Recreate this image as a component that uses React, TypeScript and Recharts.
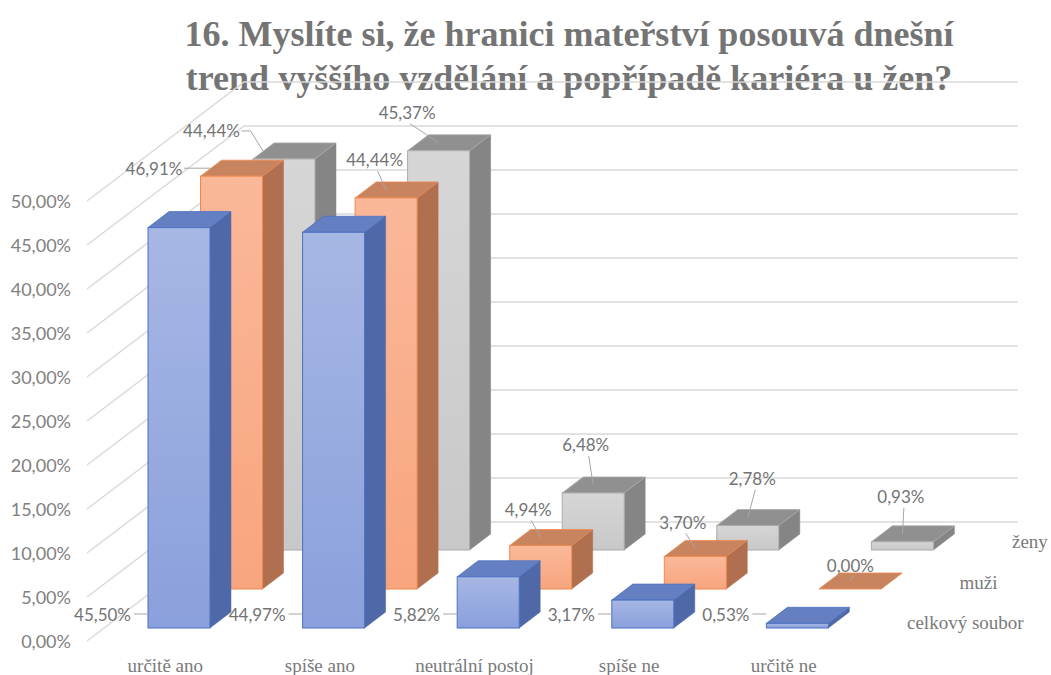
import React from 'react';
import { BarChart, Bar, XAxis, YAxis, CartesianGrid, LabelList } from 'recharts';

const categories = ['určitě ano', 'spíše ano', 'neutrální postoj', 'spíše ne', 'určitě ne'];
const celkovySoubor = [45.5, 44.97, 5.82, 3.17, 0.53];
const muzi = [46.91, 44.44, 4.94, 3.7, 0.0];
const zeny = [44.44, 45.37, 6.48, 2.78, 0.93];
const seriesNames = ['celkový soubor', 'muži', 'ženy'];
const yTicks = [0, 5, 10, 15, 20, 25, 30, 35, 40, 45, 50];

const data = categories.map((cat, i) => ({
  cat,
  celkovy: celkovySoubor[i],
  muzi: muzi[i],
  zeny: zeny[i],
}));

// pseudo 3D geometry
const ROW_DX = 52.5;
const ROW_DY = -39;
const BOX_DX = 21;
const BOX_DY = -16;
const WALL_FRONT_X = 87;
const WALL_DX = 157;
const WALL_DY = -119;
const WALL_RIGHT_X = 1018;

const SERIF = "'Liberation Serif', 'DejaVu Serif', 'Noto Serif', Tinos, FreeSerif, 'Times New Roman', Times, serif";
const TEXT = '#737373';
const LEADER = '#a6a6a6';

const rowStyles = [
  { grad: 'gBlue', top: '#6580c2', side: '#4f69a8', stroke: '#4a70c2' },
  { grad: 'gOrange', top: '#c8835f', side: '#b06f4f', stroke: '#ef8a4d' },
  { grad: 'gGray', top: '#909090', side: '#858585', stroke: '#ababab' },
];

// label offsets from the top face centre [dx, dy, leader mode]
const labelShift: Record<number, [number, number, string][]> = {
  1: [[-88, 0, 'r'], [-22, -30, 'b'], [-23, -28, 'b'], [-23, -26, 'b'], [-10, -16, 'b']],
  2: [[-83, -20, 'r'], [-42, -30, 'b'], [-18, -40, 'b'], [-6, -39, 'b'], [-12, -37, 'b']],
};

const fmt = (v: number) => `${v.toFixed(2).replace('.', ',')}%`;

function Box3D(props: any) {
  const { x, y, width, height, row } = props;
  const st = rowStyles[row];
  const x0 = x + ROW_DX * row;
  const y0 = y + ROW_DY * row;
  const w = width;
  const h = Math.max(height || 0, 0);
  const top = `M${x0},${y0} L${x0 + BOX_DX},${y0 + BOX_DY} L${x0 + w + BOX_DX},${y0 + BOX_DY} L${x0 + w},${y0} Z`;
  const side = `M${x0 + w},${y0} L${x0 + w + BOX_DX},${y0 + BOX_DY} L${x0 + w + BOX_DX},${y0 + h + BOX_DY} L${x0 + w},${y0 + h} Z`;
  return (
    <g>
      <path d={side} fill={st.side} stroke={st.side} strokeWidth={0.5} />
      <path d={top} fill={st.top} stroke={st.stroke} strokeWidth={0.8} />
      <rect x={x0} y={y0} width={w} height={h} fill={`url(#${st.grad})`} stroke={st.stroke} strokeWidth={1} />
    </g>
  );
}

const makeLabel = (row: number) => (props: any) => {
  const vb = props.viewBox || props;
  const { x, y, width, height } = vb;
  const { value, index } = props;
  const x0 = x + ROW_DX * row;
  const y0 = y + ROW_DY * row;
  const txt = fmt(Number(value));
  const style = { fontFamily: 'Lato, sans-serif', fontSize: 17, fill: TEXT };
  if (row === 0) {
    const by = y0 + height - 14;
    return (
      <g>
        <line x1={x0 - 14} y1={by} x2={x0} y2={by} stroke={LEADER} />
        <text x={x0 - 17} y={by} textAnchor="end" dominantBaseline="central" style={style}>
          {txt}
        </text>
      </g>
    );
  }
  const [dx, dy, mode] = labelShift[row][index];
  const tx = x0 + width / 2 + BOX_DX / 2;
  const ty = y0 + BOX_DY / 2;
  const lx = tx + dx;
  const ly = ty + dy;
  const hw = 27;
  let leader;
  if (mode === 'r') {
    leader = <polyline points={`${lx + hw + 3},${ly} ${lx + hw + 12},${ly} ${x0 + 10},${ty}`} stroke={LEADER} fill="none" />;
  } else {
    leader = <line x1={lx + 3} y1={ly + 11} x2={x0 + width / 2} y2={ty} stroke={LEADER} />;
  }
  return (
    <g>
      {leader}
      <text x={lx} y={ly} textAnchor="middle" dominantBaseline="central" style={style}>
        {txt}
      </text>
    </g>
  );
};

const wallLine = (p: any) => {
  const { y1, index } = p;
  const by = y1 + 13 + WALL_DY;
  return (
    <path
      key={`wall-${index}`}
      d={`M${WALL_FRONT_X},${y1 + 13} L${WALL_FRONT_X + WALL_DX},${by} L${WALL_RIGHT_X},${by}`}
      stroke="#d9d9d9"
      strokeWidth={1.5}
      fill="none"
    />
  );
};

const YTick = (props: any) => {
  const { x, y, payload } = props;
  return (
    <text x={x - 23} y={y + 13} textAnchor="end" dominantBaseline="central"
      style={{ fontFamily: 'Lato, sans-serif', fontSize: 18, fill: '#808080' }}>
      {fmt(payload.value)}
    </text>
  );
};

const XTick = (props: any) => {
  const { x, y, payload } = props;
  return (
    <text x={x - 14} y={y + 29} textAnchor="middle" dominantBaseline="central" fontFamily={SERIF}
      fontSize={19} fill="#7a7a7a">
      {payload.value}
    </text>
  );
};

export default function App() {
  return (
    <div style={{ position: 'absolute', left: 0, top: 0, width: 1051, height: 675, background: '#fff' }}>
      <div
        style={{
          position: 'absolute',
          left: 69,
          top: 12,
          width: 1000,
          textAlign: 'center',
          fontFamily: SERIF,
          fontWeight: 'bold',
          fontSize: 36,
          lineHeight: '44px',
          color: '#747474',
        }}
      >
        16. Myslíte si, že hranici mateřství posouvá dnešní
        <br />
        trend vyššího vzdělání a popřípadě kariéra u žen?
      </div>
      <BarChart
        width={1051}
        height={675}
        data={data}
        margin={{ top: 188, right: 176, bottom: 0, left: 0 }}
        barSize={62}
        barGap={-62}
        style={{ position: 'absolute', left: 0, top: 0 }}
      >
        <defs>
          <linearGradient id="gBlue" x1="0" y1="0" x2="0" y2="1">
            <stop offset="0%" stopColor="#a7b7e4" />
            <stop offset="100%" stopColor="#8aa0dc" />
          </linearGradient>
          <linearGradient id="gOrange" x1="0" y1="0" x2="0" y2="1">
            <stop offset="0%" stopColor="#fab899" />
            <stop offset="100%" stopColor="#f8a57e" />
          </linearGradient>
          <linearGradient id="gGray" x1="0" y1="0" x2="0" y2="1">
            <stop offset="0%" stopColor="#d6d6d6" />
            <stop offset="100%" stopColor="#c8c8c8" />
          </linearGradient>
        </defs>
        <CartesianGrid vertical={false} horizontal={wallLine} />
        <XAxis dataKey="cat" height={47} axisLine={false} tickLine={false} interval={0} tick={<XTick />} />
        <YAxis domain={[0, 50]} ticks={yTicks} width={102} axisLine={false} tickLine={false} tick={<YTick />} />
        <Bar dataKey="zeny" name={seriesNames[2]} isAnimationActive={false} shape={(p: any) => <Box3D {...p} row={2} />}>
          <LabelList dataKey="zeny" content={makeLabel(2)} />
        </Bar>
        <Bar dataKey="muzi" name={seriesNames[1]} isAnimationActive={false} shape={(p: any) => <Box3D {...p} row={1} />}>
          <LabelList dataKey="muzi" content={makeLabel(1)} />
        </Bar>
        <Bar dataKey="celkovy" name={seriesNames[0]} isAnimationActive={false} shape={(p: any) => <Box3D {...p} row={0} />}>
          <LabelList dataKey="celkovy" content={makeLabel(0)} />
        </Bar>
      </BarChart>
      {seriesNames.map((n, i) => (
        <div
          key={n}
          style={{
            position: 'absolute',
            left: 907 + ROW_DX * i,
            top: 623 + (ROW_DY - 1.5) * i - 12,
            fontFamily: SERIF,
            fontSize: 19,
            lineHeight: '24px',
            color: '#7a7a7a',
            whiteSpace: 'nowrap',
          }}
        >
          {n}
        </div>
      ))}
    </div>
  );
}
